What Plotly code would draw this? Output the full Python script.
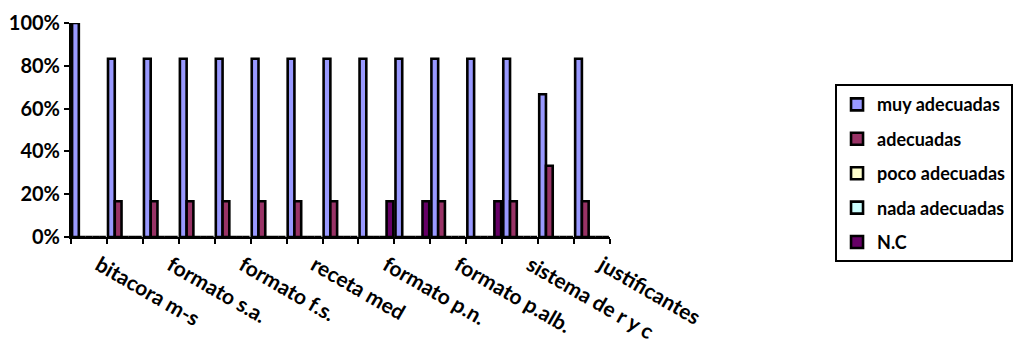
import plotly.graph_objects as go

# 15 categories; the reference only prints every other label
categories = ["bitacora m-s", "", "formato s.a.", "", "formato f.s.", "", "receta med", "",
              "formato p.n.", "", "formato p.alb.", "", "sistema de r y c", "", "justificantes"]

muy_adecuadas = [100, 83.3, 83.3, 83.3, 83.3, 83.3, 83.3, 83.3, 83.3, 83.3, 83.3, 83.3, 83.3, 66.7, 83.3]
adecuadas = [0, 16.7, 16.7, 16.7, 16.7, 16.7, 16.7, 16.7, 0, 0, 16.7, 0, 16.7, 33.3, 16.7]
poco_adecuadas = [0] * 15
nada_adecuadas = [0] * 15
nc = [0, 0, 0, 0, 0, 0, 0, 0, 16.7, 16.7, 0, 16.7, 0, 0, 0]

series_names = ["muy adecuadas", "adecuadas", "poco adecuadas", "nada adecuadas", "N.C"]
series_values = [muy_adecuadas, adecuadas, poco_adecuadas, nada_adecuadas, nc]
series_colors = ["#9999FF", "#993366", "#FFFFCC", "#CCFFFF", "#660066"]

y_ticks = [0, 20, 40, 60, 80, 100]
y_ticktext = ["0%", "20%", "40%", "60%", "80%", "100%"]

FONT = "Lato"
x_idx = list(range(len(categories)))

fig = go.Figure()
for name, vals, col in zip(series_names, series_values, series_colors):
    fig.add_trace(go.Bar(
        x=x_idx, y=vals, name=name, legendgroup=name,
        marker=dict(color=col, line=dict(color="black", width=2.6)),
    ))

# page body has an 8px margin, so plot-area offsets are compensated
fig.update_layout(
    width=1021, height=352,
    barmode="group", bargap=0.06, bargroupgap=0,
    plot_bgcolor="white", paper_bgcolor="white",
    margin=dict(l=63, r=419, t=15, b=123, autoexpand=False),
    font=dict(family=FONT, size=20, color="black", weight="bold"),
    showlegend=True,
    legend=dict(
        x=1.4175, y=0.714, xanchor="left", yanchor="top",
        bordercolor="black", borderwidth=2, bgcolor="white",
        font=dict(family=FONT, size=18, color="black", weight="bold"),
        traceorder="grouped", tracegroupgap=8,
    ),
    xaxis=dict(
        range=[-0.5, 14.5],
        tickmode="array", tickvals=x_idx, ticktext=categories,
        tickangle=30, ticks="", showgrid=False, zeroline=False,
        showline=True, linecolor="black", linewidth=2,
        tickfont=dict(family=FONT, size=21, weight="bold"),
        ticklabelstandoff=6, ticklabelshift=10,
        minor=dict(tickmode="array", tickvals=[k - 0.5 for k in range(16)],
                   ticks="outside", ticklen=5, tickwidth=2, tickcolor="black"),
    ),
    yaxis=dict(
        range=[0, 100], tickmode="array", tickvals=y_ticks, ticktext=y_ticktext,
        ticks="outside", ticklen=5, tickwidth=2, tickcolor="black",
        showgrid=False, zeroline=False,
        showline=True, linecolor="black", linewidth=2,
        tickfont=dict(family=FONT, size=20, weight="bold"),
    ),
)

fig.write_html("out.html")
